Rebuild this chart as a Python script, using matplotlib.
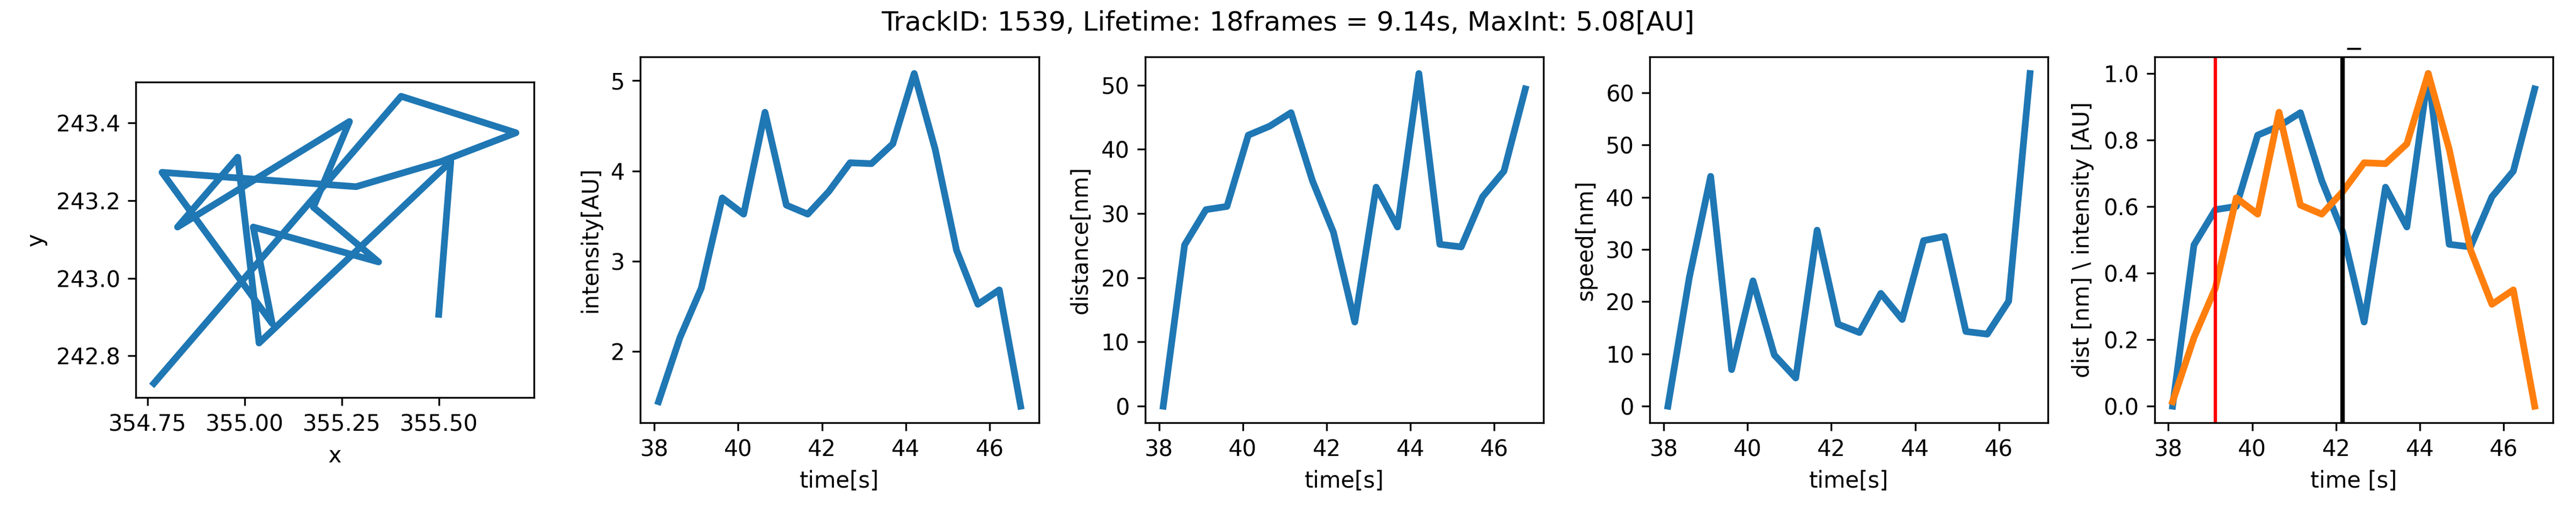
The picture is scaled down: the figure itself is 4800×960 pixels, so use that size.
import matplotlib
matplotlib.use("Agg")
import matplotlib.pyplot as plt
import numpy as np

# track coordinates (pixel units)
xs = [355.500, 355.531, 355.037, 355.025, 354.982, 354.882, 354.827, 355.270, 355.177,
      355.345, 355.022, 355.071, 354.787, 355.287, 355.504, 355.699, 355.403, 354.766]
ys = [242.907, 243.301, 242.833, 242.941, 243.312, 243.196, 243.132, 243.404, 243.183,
      243.042, 243.132, 242.883, 243.273, 243.236, 243.300, 243.375, 243.469, 242.729]

time = [38.10, 38.61, 39.12, 39.62, 40.13, 40.64, 41.15, 41.66, 42.16,
        42.67, 43.18, 43.69, 44.20, 44.70, 45.21, 45.72, 46.23, 46.74]

intensity = [1.44, 2.15, 2.70, 3.70, 3.52, 4.65, 3.62, 3.52, 3.77,
             4.09, 4.08, 4.30, 5.08, 4.24, 3.12, 2.52, 2.68, 1.39]

distance = [0.0, 25.1, 30.6, 31.1, 42.2, 43.6, 45.7, 35.1, 27.1,
            13.1, 34.1, 27.9, 51.8, 25.2, 24.8, 32.6, 36.6, 49.4]

speed = [0.0, 24.6, 44.0, 7.0, 24.0, 9.8, 5.4, 33.7, 15.7,
         14.1, 21.6, 16.6, 31.7, 32.5, 14.3, 13.8, 20.1, 63.7]

track_id = 1539
t_start = 39.12
t_max = 42.16

inten = np.array(intensity)
dist = np.array(distance)
dist_norm = dist / dist.max()
int_norm = (inten - inten.min()) / (inten.max() - inten.min())

fig, axs = plt.subplots(1, 5, figsize=(16, 3.2), dpi=300)
fig.subplots_adjust(left=0.0527, right=0.991, top=0.8896, bottom=0.179, wspace=0.267)

axs[0].plot(xs, ys, linewidth=3)
axs[0].set_aspect('equal')
axs[0].set_xlabel('x')
axs[0].set_ylabel('y')

axs[1].plot(time, intensity, linewidth=3)
axs[1].set_xlabel('time[s]')
axs[1].set_ylabel('intensity[AU]')

axs[2].plot(time, distance, linewidth=3)
axs[2].set_xlabel('time[s]')
axs[2].set_ylabel('distance[nm]')

axs[3].plot(time, speed, linewidth=3)
axs[3].set_xlabel('time[s]')
axs[3].set_ylabel('speed[nm]')

axs[4].plot(time, dist_norm, linewidth=3)
axs[4].plot(time, int_norm, linewidth=3)
axs[4].axvline(t_start, color='r', linewidth=1.5)
axs[4].axvline(t_max, color='k', linewidth=2)
axs[4].set_title('_')
axs[4].set_xlabel('time [s]')
axs[4].set_ylabel('dist [nm] \\ intensity [AU]')

lifetime = len(time)
fig.suptitle('TrackID: %d, Lifetime: %dframes = %.2fs, MaxInt: %.2f[AU]'
             % (track_id, lifetime, 9.14, max(intensity)))

plt.savefig('out.png', dpi=300)
